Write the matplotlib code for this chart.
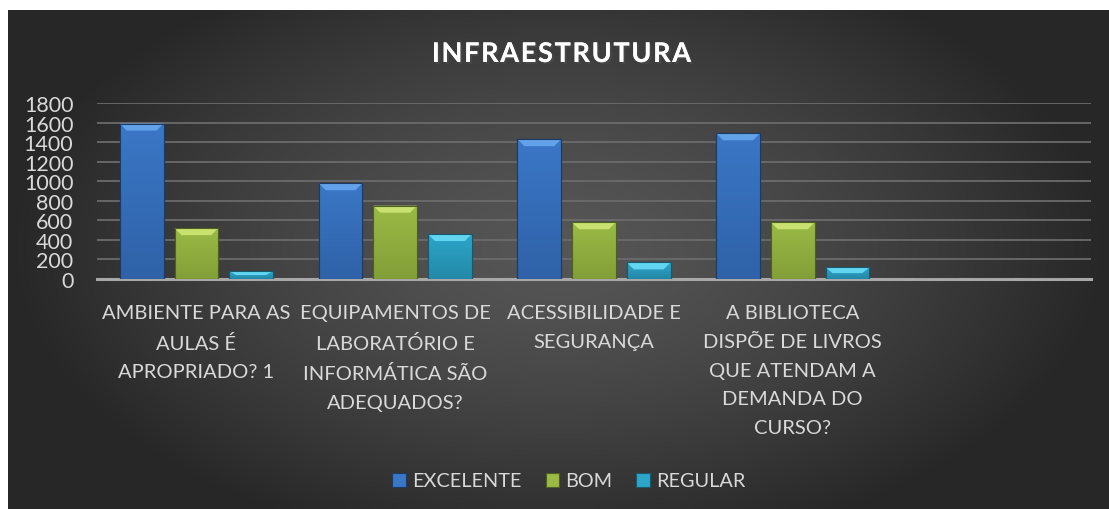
import matplotlib.pyplot as plt
import numpy as np
from matplotlib.patches import Polygon
import matplotlib.patheffects as pe

categories = [
    "AMBIENTE PARA AS\nAULAS É\nAPROPRIADO? 1",
    "EQUIPAMENTOS DE\nLABORATÓRIO E\nINFORMÁTICA SÃO\nADEQUADOS?",
    "ACESSIBILIDADE E\nSEGURANÇA",
    "A BIBLIOTECA\nDISPÕE DE LIVROS\nQUE ATENDAM A\nDEMANDA DO\nCURSO?",
    "",
]
series = ["EXCELENTE", "BOM", "REGULAR"]
excelente = [1590, 980, 1430, 1490, 0]
bom = [520, 750, 580, 580, 0]
regular = [80, 460, 170, 120, 0]
yticks = [0, 200, 400, 600, 800, 1000, 1200, 1400, 1600, 1800]

body = ["#3a77c6", "#9aba45", "#2ea5c8"]
bottom_col = ["#2f62a8", "#839f38", "#2389a8"]
bevel = ["#63a2ea", "#c9e26f", "#62d6f0"]
edge = ["#1c3a66", "#4c6120", "#18596d"]

plt.rcParams['font.family'] = ['Lato', 'DejaVu Sans']
txt = "#d9d9d9"

W, H = 1109, 510
fig = plt.figure(figsize=(W / 100, H / 100), dpi=100)
fig.patch.set_facecolor("white")

# dark radial background
bg = fig.add_axes([8 / W, 0, 1 - 8 / W, 1 - 11 / H])
bg.set_axis_off()
gx, gy = np.meshgrid(np.linspace(-1, 1, 400), np.linspace(-1, 1, 200))
r = np.sqrt((gx / 1.0) ** 2 + ((gy + 0.05) / 1.25) ** 2)
r = np.clip(r, 0, 1)
v = (0x56 - (0x56 - 0x27) * r ** 1.4) / 255
bg.imshow(np.dstack([v, v, v]), aspect="auto", extent=[0, 1, 0, 1])
bg.set_xlim(0, 1)
bg.set_ylim(0, 1)

ax = fig.add_axes([97 / W, 1 - 280 / H, (1091 - 97) / W, (280 - 104) / H])
ax.patch.set_alpha(0)
x = np.arange(len(categories))
width = 0.22
offs = [-0.275, 0, 0.275]
data = [excelente, bom, regular]

ax.set_xlim(-0.5, len(categories) - 0.5)
ax.set_ylim(0, 1800)
ax.set_yticks(yticks)
ax.yaxis.grid(True, color="#6b6b6b", lw=1.3)
ax.set_axisbelow(True)
for s in ["top", "right", "left"]:
    ax.spines[s].set_visible(False)
ax.spines["bottom"].set_color("#a8a8a8")
ax.spines["bottom"].set_linewidth(2.2)
ax.tick_params(axis="both", length=0, colors=txt)
ax.tick_params(axis="y", pad=17, labelsize=15.5)
ax.set_xticks(x)
ax.set_xticklabels(categories, linespacing=1.84, fontsize=14.5)
ax.tick_params(axis="x", pad=18)

# bevel size in data units (about 7 px)
bx = 7 / 200.0
by = 7 * 1800 / 176.0
grad = np.linspace(0, 1, 50).reshape(-1, 1)
for i, vals in enumerate(data):
    bars = ax.bar(x + offs[i], vals, width, color=body[i], edgecolor=edge[i],
                  linewidth=0.8, label=series[i], zorder=3)
    for b, val in zip(bars, vals):
        if val <= 0:
            continue
        x0, x1 = b.get_x(), b.get_x() + b.get_width()
        c0 = np.array(plt.matplotlib.colors.to_rgb(bottom_col[i]))
        c1 = np.array(plt.matplotlib.colors.to_rgb(body[i]))
        img = c0 + (c1 - c0) * grad[..., None]
        im = ax.imshow(img, extent=[x0, x1, 0, val], origin="lower",
                       aspect="auto", zorder=3.1)
        im.set_clip_path(b)
        hb = min(by, val * 0.5)
        poly = Polygon([[x0, val], [x1, val], [x1 - bx, val - hb], [x0 + bx, val - hb]],
                       closed=True, facecolor=bevel[i], edgecolor="none", zorder=3.2)
        ax.add_patch(poly)
        ax.add_patch(plt.Rectangle((x0, 0), x1 - x0, val, fill=False,
                                   edgecolor=edge[i], lw=0.8, zorder=3.3))
ax.set_xlim(-0.5, len(categories) - 0.5)
ax.set_ylim(0, 1800)

title = "\u200a".join("INFRAESTRUTURA")
fig.text(562 / W, 1 - 55 / H, title, ha="center", va="center", color="white",
         fontsize=19.5, fontweight="bold",
         path_effects=[pe.withSimplePatchShadow(offset=(1.5, -1.5), alpha=0.6), pe.Normal()])

leg = ax.legend(loc="center", bbox_to_anchor=(569 / W, 1 - 482 / H),
                bbox_transform=fig.transFigure, ncol=3, frameon=False,
                fontsize=14.3, labelcolor=txt, handlelength=0.7, handleheight=0.7,
                handletextpad=0.3, columnspacing=1.2)

fig.savefig("out.png", dpi=100, facecolor=fig.get_facecolor())
